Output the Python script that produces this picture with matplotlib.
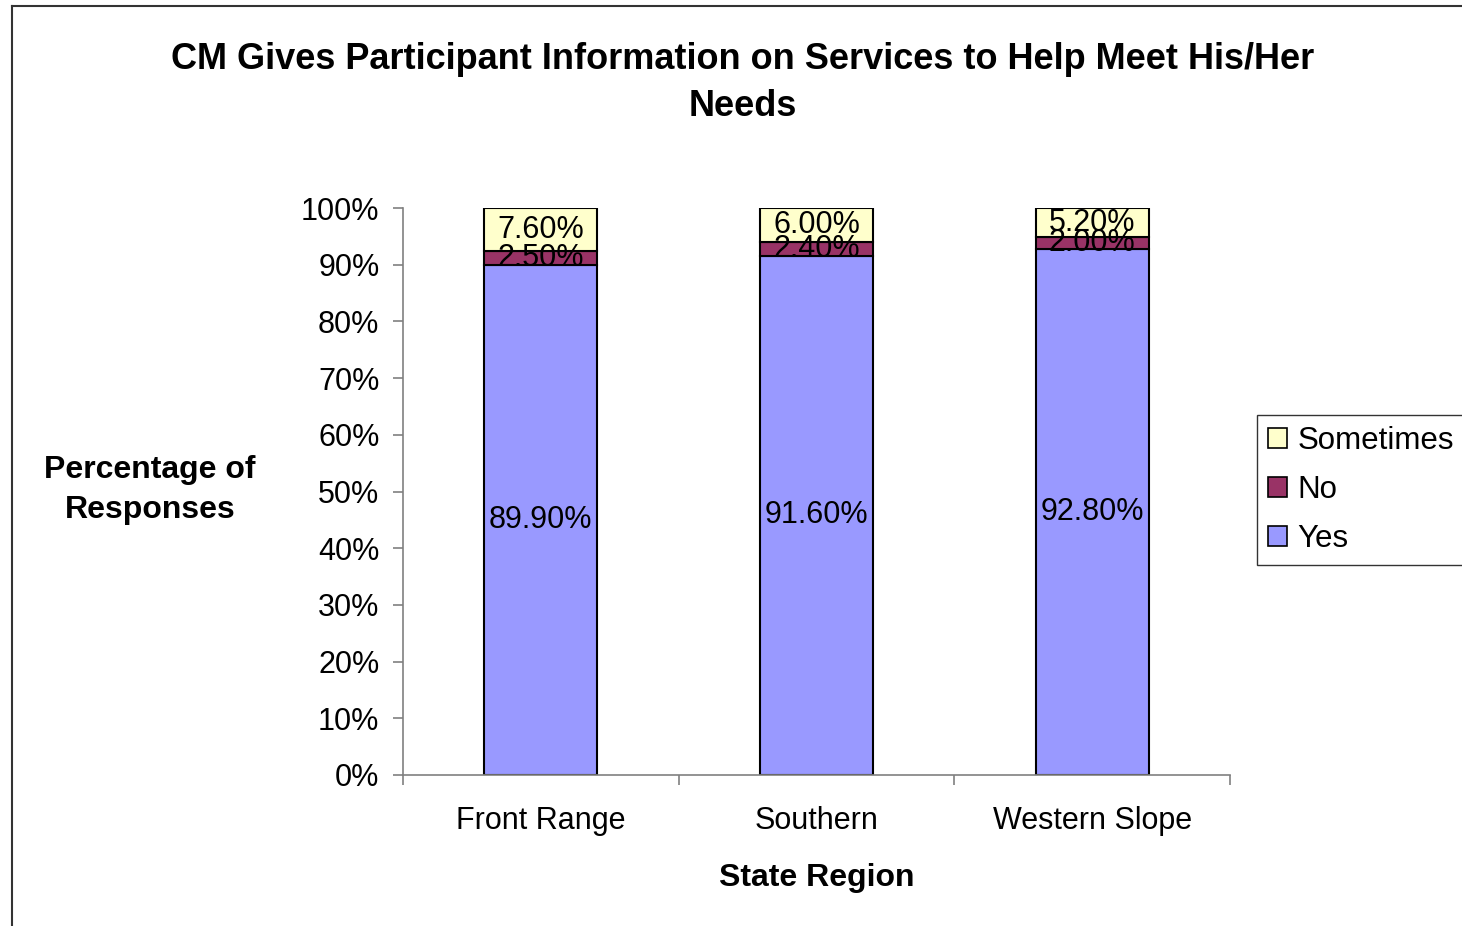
import numpy as np
import matplotlib.pyplot as plt
from matplotlib.lines import Line2D
from matplotlib.ticker import FuncFormatter

plt.rcParams['font.family'] = ['Liberation Sans', 'DejaVu Sans']

# ── Data ──
regions = ['Front Range', 'Southern', 'Western Slope']
yes = [89.9, 91.6, 92.8]
no = [2.5, 2.4, 2.0]
sometimes = [7.6, 6.0, 5.2]

c_yes, c_no, c_some = '#9999FF', '#993366', '#FFFFCC'

fig = plt.figure(figsize=(14.62, 9.26), dpi=100)
ax = fig.add_axes([403/1462, 1 - 775/926, 827/1462, 567/926])

x = np.arange(len(regions))
w = 0.41
y_ = np.array(yes) / 100
n_ = np.array(no) / 100
s_ = np.array(sometimes) / 100

b1 = ax.bar(x, y_, w, color=c_yes, edgecolor='black', linewidth=1.5, label='Yes')
b2 = ax.bar(x, n_, w, bottom=y_, color=c_no, edgecolor='black', linewidth=1.5, label='No')
b3 = ax.bar(x, s_, w, bottom=y_ + n_, color=c_some, edgecolor='black', linewidth=1.5, label='Sometimes')

# data labels centred in each segment (they overlap in the original too)
for vals, bottoms in [(yes, np.zeros(3)), (no, y_), (sometimes, y_ + n_)]:
    for i, v in enumerate(vals):
        ax.text(x[i], bottoms[i] + v / 200, f'{v:.2f}%', ha='center', va='center',
                fontsize=22, color='black')

ax.set_xlim(-0.5, 2.5)
ax.set_ylim(0, 1)
ax.set_yticks(np.arange(0, 1.01, 0.1))
ax.yaxis.set_major_formatter(FuncFormatter(lambda v, p: f'{v*100:.0f}%'))
ax.set_xticks([-0.5, 0.5, 1.5, 2.5], minor=False)
ax.set_xticklabels([])
ax.set_xticks(x, minor=True)
ax.set_xticklabels(regions, minor=True, fontsize=22)
ax.tick_params(axis='x', which='minor', length=0, pad=22)
ax.tick_params(axis='x', which='major', length=7, color='#808080', width=1.2)
ax.tick_params(axis='y', length=7, color='#808080', width=1.2, labelsize=22, pad=10)

for s in ['top', 'right']:
    ax.spines[s].set_visible(False)
for s in ['left', 'bottom']:
    ax.spines[s].set_color('#808080')
    ax.spines[s].set_linewidth(1.2)

ax.set_xlabel('State Region', fontsize=23, fontweight='bold', labelpad=20)
fig.text(150/1462, 1 - 490/926, 'Percentage of\nResponses', ha='center', va='center',
         fontsize=23, fontweight='bold', linespacing=1.4)

fig.text(743/1462, 1 - 83/926, 'CM Gives Participant Information on Services to Help Meet His/Her\nNeeds',
         ha='center', va='center', fontsize=26, fontweight='bold', linespacing=1.45)

leg = ax.legend(handles=[b3, b2, b1], labels=['Sometimes', 'No', 'Yes'],
                loc='center left', bbox_to_anchor=(1257/1462, 1 - 490/926),
                bbox_transform=fig.transFigure, fontsize=22.5, frameon=True, fancybox=False,
                edgecolor='black', handlelength=0.6, handleheight=0.6, handletextpad=0.35,
                labelspacing=0.6, borderpad=0.35, borderaxespad=0)
leg.get_frame().set_linewidth(1.0)
for h in leg.legend_handles:
    h.set_linewidth(1.2)

# outer chart border (top and left visible)
fig.add_artist(Line2D([12/1462, 12/1462], [0, 1 - 6/926], transform=fig.transFigure,
                      color='#333333', linewidth=1.5))
fig.add_artist(Line2D([12/1462, 1], [1 - 6/926, 1 - 6/926], transform=fig.transFigure,
                      color='#333333', linewidth=1.5))

plt.savefig('out.png', dpi=100)
